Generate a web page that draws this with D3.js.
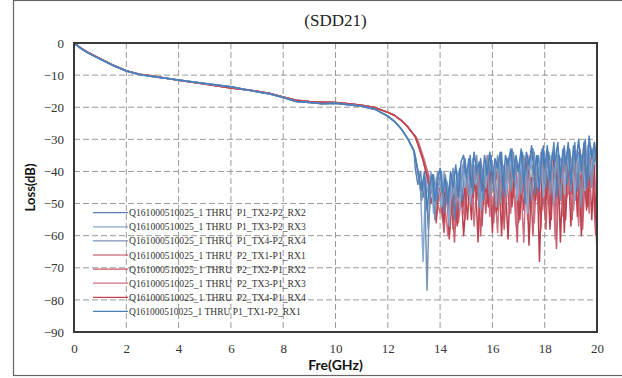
<!DOCTYPE html>
<html>
<head>
<meta charset="utf-8">
<script src="https://cdn.jsdelivr.net/npm/d3@7"></script>
<style>
  body { margin: 0; background: #fff; }
  svg { display: block; }
</style>
</head>
<body>
<script>
// frequency grid (GHz): smooth low-frequency part, then the noisy tail on two staggered grids
const freqSmooth = [0, 0.25, 0.5, 1, 1.5, 2, 2.5, 3, 4, 5, 6, 7, 7.5, 8, 8.5, 9, 9.5, 10, 10.5, 11, 11.5, 12, 12.25, 12.5, 12.75, 13.0]
const freqNoiseA = [13.1, 13.2, 13.3, 13.4, 13.5, 13.6, 13.7, 13.8, 13.9, 14.0,
  14.1, 14.2, 14.3, 14.4, 14.5, 14.6, 14.7, 14.8, 14.9, 15.0,
  15.1, 15.2, 15.3, 15.4, 15.5, 15.6, 15.7, 15.8, 15.9, 16.0,
  16.1, 16.2, 16.3, 16.4, 16.5, 16.6, 16.7, 16.8, 16.9, 17.0,
  17.1, 17.2, 17.3, 17.4, 17.5, 17.6, 17.7, 17.8, 17.9, 18.0,
  18.1, 18.2, 18.3, 18.4, 18.5, 18.6, 18.7, 18.8, 18.9, 19.0,
  19.1, 19.2, 19.3, 19.4, 19.5, 19.6, 19.7, 19.8, 19.9, 20.0]
const freqNoiseB = [13.05, 13.15, 13.25, 13.35, 13.45, 13.55, 13.65, 13.75, 13.85, 13.95,
  14.05, 14.15, 14.25, 14.35, 14.45, 14.55, 14.65, 14.75, 14.85, 14.95,
  15.05, 15.15, 15.25, 15.35, 15.45, 15.55, 15.65, 15.75, 15.85, 15.95,
  16.05, 16.15, 16.25, 16.35, 16.45, 16.55, 16.65, 16.75, 16.85, 16.95,
  17.05, 17.15, 17.25, 17.35, 17.45, 17.55, 17.65, 17.75, 17.85, 17.95,
  18.05, 18.15, 18.25, 18.35, 18.45, 18.55, 18.65, 18.75, 18.85, 18.95,
  19.05, 19.15, 19.25, 19.35, 19.45, 19.55, 19.65, 19.75, 19.85, 19.95]

// low-frequency loss (dB), P1->P2 group and P2->P1 group
const blueSmooth = [0, -1.6, -2.9, -5.0, -7.0, -8.7, -9.8, -10.4, -11.5, -12.6, -13.6, -15.2, -15.9, -17.0, -18.2, -18.5, -18.9, -18.8, -19.2, -19.7, -20.6, -22.8, -24.4, -26.6, -29.6, -33.5]
const redSmooth = [0, -1.5, -2.8, -4.9, -6.9, -8.6, -9.7, -10.3, -11.6, -12.8, -14.0, -15.0, -15.7, -16.8, -17.8, -18.2, -18.4, -18.5, -18.9, -19.4, -20.1, -21.6, -22.5, -24.0, -26.0, -28.6]

// high-frequency tail per series (dB)
const p1tx2 = [-39, -44, -40, -48, -43, -58, -45, -41, -50, -44,
  -40, -53, -43, -47, -41, -55, -44, -39, -49, -36,
  -44, -35, -47, -38, -43, -36, -49, -37, -42, -35,
  -46, -37, -41, -34, -48, -36, -40, -33, -45, -37,
  -41, -34, -50, -36, -39, -33, -47, -35, -40, -32,
  -45, -34, -39, -31, -48, -35, -38, -32, -44, -33,
  -40, -31, -46, -34, -37, -30, -43, -32, -39, -34]
const p1tx3 = [-35, -40, -45, -68, -42, -47, -40, -53, -42, -46,
  -51, -40, -44, -57, -42, -47, -40, -52, -38, -45,
  -39, -50, -36, -44, -41, -52, -38, -45, -35, -40,
  -39, -51, -36, -43, -38, -47, -35, -42, -37, -49,
  -36, -43, -38, -53, -35, -42, -37, -45, -34, -48,
  -37, -42, -35, -50, -33, -41, -36, -47, -34, -40,
  -36, -49, -33, -41, -35, -46, -32, -42, -33, -36]
const p1tx4 = [-38, -43, -49, -41, -77, -46, -42, -55, -40, -44,
  -48, -41, -52, -45, -39, -50, -42, -46, -37, -41,
  -47, -38, -42, -35, -51, -39, -44, -36, -48, -38,
  -42, -35, -50, -38, -43, -36, -46, -34, -41, -38,
  -47, -35, -42, -37, -49, -34, -43, -38, -36, -44,
  -33, -47, -38, -42, -35, -49, -36, -40, -33, -46,
  -34, -43, -37, -51, -33, -40, -35, -45, -31, -41]
const p2tx1 = [-30, -32, -34.5, -37, -40, -43, -46, -52, -44, -48,
  -55, -45, -50, -44, -58, -47, -53, -45, -60, -48,
  -44, -55, -40, -49, -38, -57, -43, -50, -39, -59,
  -42, -52, -37, -54, -45, -61, -40, -48, -38, -56,
  -43, -52, -39, -63, -42, -49, -36, -68, -41, -53,
  -38, -58, -44, -51, -35, -62, -40, -55, -37, -57,
  -42, -49, -34, -60, -39, -52, -35, -55, -38, -66]
const p2tx2 = [-29.5, -31.5, -34, -36.5, -39.5, -44, -42, -49, -56, -46,
  -51, -59, -46, -54, -48, -62, -45, -51, -47, -55,
  -39, -46, -52, -38, -44, -60, -41, -53, -36, -47,
  -56, -40, -45, -37, -58, -42, -52, -38, -46, -62,
  -39, -49, -36, -55, -42, -60, -38, -50, -40, -45,
  -58, -36, -47, -41, -64, -38, -51, -35, -48, -40,
  -55, -37, -46, -33, -58, -40, -50, -36, -44, -60]
const p2tx3 = [-29.5, -31.5, -34, -36.5, -39.5, -42, -47, -44, -50, -53,
  -47, -52, -60, -46, -50, -44, -56, -49, -53, -42,
  -50, -41, -57, -44, -38, -51, -45, -35, -54, -41,
  -47, -59, -38, -44, -50, -36, -53, -42, -57, -39,
  -46, -62, -37, -49, -43, -56, -40, -45, -52, -38,
  -44, -51, -39, -61, -37, -45, -54, -39, -47, -36,
  -52, -42, -57, -35, -46, -40, -53, -33, -48, -43]
const p2tx4 = [-29, -31.5, -34, -36.5, -40, -43, -50, -46, -55, -45,
  -49, -56, -44, -61, -50, -46, -57, -43, -51, -45,
  -55, -39, -48, -42, -62, -37, -47, -40, -51, -38,
  -44, -53, -38, -60, -41, -46, -36, -51, -40, -48,
  -55, -39, -44, -35, -52, -38, -49, -41, -58, -37,
  -49, -40, -55, -36, -43, -50, -37, -59, -41, -38,
  -47, -35, -54, -39, -45, -33, -51, -37, -42, -55]
const p1tx1 = [-37.5, -42, -46, -40, -52, -44, -41, -49, -43, -39,
  -47, -42, -50, -40, -45, -38, -48, -37, -35, -42,
  -36, -45, -34, -40, -37, -46, -35, -41, -34, -43,
  -36, -39, -34, -45, -35, -38, -33, -42, -35, -40,
  -33, -44, -34, -38, -32, -41, -35, -46, -33, -39,
  -32, -43, -34, -37, -31, -42, -33, -38, -31, -44,
  -32, -37, -30, -40, -31, -45, -29, -36, -31, -38]

const seriesNames = [
  "Q161000510025_1 THRU  P1_TX2-P2_RX2",
  "Q161000510025_1 THRU  P1_TX3-P2_RX3",
  "Q161000510025_1 THRU  P1_TX4-P2_RX4",
  "Q161000510025_1 THRU  P2_TX1-P1_RX1",
  "Q161000510025_1 THRU  P2_TX2-P1_RX2",
  "Q161000510025_1 THRU  P2_TX3-P1_RX3",
  "Q161000510025_1 THRU  P2_TX4-P1_RX4",
  "Q161000510025_1 THRU P1_TX1-P2_RX1"
]
const seriesColors = ["#5a80b4", "#86a8d2", "#7892b4", "#b8404e", "#c65a6a", "#cc7282", "#c0434f", "#4a7ebb"]
const seriesLow = [blueSmooth, blueSmooth, blueSmooth, redSmooth, redSmooth, redSmooth, redSmooth, blueSmooth]
const seriesHigh = [p1tx2, p1tx3, p1tx4, p2tx1, p2tx2, p2tx3, p2tx4, p1tx1]
const seriesGrid = [freqNoiseB, freqNoiseB, freqNoiseA, freqNoiseA, freqNoiseB, freqNoiseA, freqNoiseB, freqNoiseA]
// P2->P1 traces sit underneath, P1->P2 traces on top
const drawOrder = [3, 4, 5, 6, 0, 1, 2, 7]

const xTicks = [0, 2, 4, 6, 8, 10, 12, 14, 16, 18, 20]
const yTicks = [0, -10, -20, -30, -40, -50, -60, -70, -80, -90]

const width = 622
const height = 378
const plotLeft = 74, plotRight = 597, plotTop = 43, plotBottom = 332

const series = seriesNames.map((name, i) => {
  const freqs = freqSmooth.concat(seriesGrid[i])
  const values = seriesLow[i].concat(seriesHigh[i])
  return { name, color: seriesColors[i], points: freqs.map((f, j) => [f, values[j]]) }
})

const x = d3.scaleLinear([0, 20], [plotLeft, plotRight])
const y = d3.scaleLinear([-90, 0], [plotBottom, plotTop])

const svg = d3.select("body").append("svg")
  .attr("width", width)
  .attr("height", height)

// outer frame
svg.append("rect")
  .attr("x", 13.5).attr("y", 0.5)
  .attr("width", 620).attr("height", 375)
  .attr("fill", "none")
  .attr("stroke", "#666")
  .attr("stroke-width", 1.2)

svg.append("text")
  .attr("x", (plotLeft + plotRight) / 2)
  .attr("y", 26)
  .attr("text-anchor", "middle")
  .style("font", "17px 'Liberation Serif'")
  .attr("fill", "#222")
  .text("(SDD21)")

// grid
const grid = svg.append("g")
  .attr("stroke", "#9a9a9a")
  .attr("stroke-dasharray", "6,3")
  .attr("stroke-width", 1)
grid.selectAll(".v").data(xTicks.slice(1, -1)).join("line")
  .attr("x1", d => x(d)).attr("x2", d => x(d))
  .attr("y1", plotTop).attr("y2", plotBottom)
grid.selectAll(".h").data(yTicks.slice(1, -1)).join("line")
  .attr("x1", plotLeft).attr("x2", plotRight)
  .attr("y1", d => y(d)).attr("y2", d => y(d))

// axes (labels only, Excel style)
svg.append("g")
  .attr("transform", `translate(0,${plotBottom})`)
  .call(d3.axisBottom(x).tickValues(xTicks).tickSize(0).tickPadding(12).tickFormat(d3.format("d")))
svg.append("g")
  .attr("transform", `translate(${plotLeft},0)`)
  .call(d3.axisLeft(y).tickValues(yTicks).tickSize(0).tickPadding(10).tickFormat(d => d === 0 ? "0" : "\u2212" + Math.abs(d)))
svg.selectAll(".domain").remove()
svg.selectAll(".tick text")
  .style("font", "13px 'Liberation Serif'")
  .attr("fill", "#333")

svg.append("text")
  .attr("x", (plotLeft + plotRight) / 2)
  .attr("y", 370)
  .attr("text-anchor", "middle")
  .style("font", "bold 14px Lato")
  .attr("fill", "#111")
  .text("Fre(GHz)")

svg.append("text")
  .attr("transform", `translate(35,${(plotTop + plotBottom) / 2}) rotate(-90)`)
  .attr("text-anchor", "middle")
  .style("font", "bold 13px Lato")
  .attr("fill", "#111")
  .text("Loss(dB)")

// curves
svg.append("clipPath").attr("id", "plot")
  .append("rect").attr("x", plotLeft).attr("y", plotTop).attr("width", plotRight - plotLeft).attr("height", plotBottom - plotTop)

const line = d3.line().x(d => x(d[0])).y(d => y(d[1]))
svg.append("g")
  .attr("clip-path", "url(#plot)")
  .selectAll("path")
  .data(drawOrder.map(i => series[i]))
  .join("path")
  .attr("d", d => line(d.points))
  .attr("fill", "none")
  .attr("stroke", d => d.color)
  .attr("stroke-width", 1.5)
  .attr("stroke-linejoin", "round")

// plot border
svg.append("rect")
  .attr("x", plotLeft).attr("y", plotTop)
  .attr("width", plotRight - plotLeft).attr("height", plotBottom - plotTop)
  .attr("fill", "none")
  .attr("stroke", "#3a3a3a")
  .attr("stroke-width", 2)

// legend
const legend = svg.append("g")
  .selectAll("g")
  .data(series)
  .join("g")
  .attr("transform", (d, i) => `translate(93,${212.7 + i * 14.1})`)
legend.append("line")
  .attr("x1", 0).attr("x2", 35)
  .attr("stroke", d => d.color)
  .attr("stroke-width", 1.2)
legend.append("text")
  .attr("x", 36)
  .attr("y", 3.5)
  .style("font", "10px 'Liberation Serif'")
  .style("white-space", "pre")
  .attr("fill", "#333")
  .attr("textLength", d => d.name.length * 5.05)
  .attr("lengthAdjust", "spacingAndGlyphs")
  .text(d => d.name)
</script>
</body>
</html>
